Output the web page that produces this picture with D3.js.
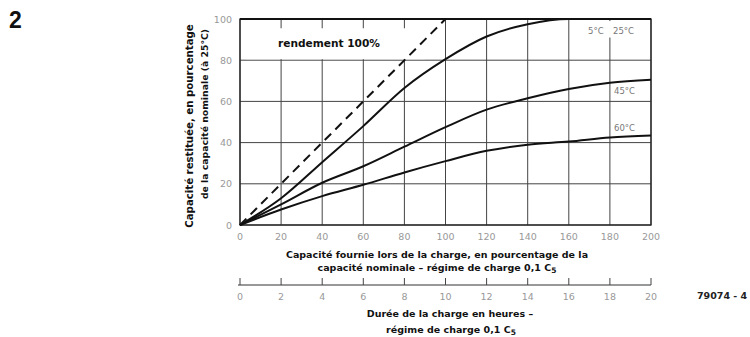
<!DOCTYPE html>
<html>
<head>
<meta charset="utf-8">
<script src="https://cdn.jsdelivr.net/npm/d3@7/dist/d3.min.js"></script>
<style>
  body { margin: 0; background: #fff; }
  svg { display: block; }
</style>
</head>
<body>
<svg id="chart" width="750" height="337"></svg>
<script>
// Capacité fournie (% de la capacité nominale)
const chargeTicks = [0, 20, 40, 60, 80, 100, 120, 140, 160, 180, 200];
// Capacité restituée (%)
const restTicks = [0, 20, 40, 60, 80, 100];
// Durée de charge (heures)
const hourTicks = [0, 2, 4, 6, 8, 10, 12, 14, 16, 18, 20];

// Courbes mesurées : capacité fournie -> capacité restituée
const chargeX  = [0, 20, 40, 60, 80, 100, 120, 140, 160, 180, 200];
const curve25  = [0, 13, 30.5, 48, 66.5, 80.5, 91.5, 97.5, 100, 100, 100];
const curve45  = [0, 10, 20.5, 28.5, 38, 47.5, 56, 61.5, 66, 69, 70.5];
const curve60  = [0, 7.5, 14, 19.5, 25.5, 31, 36, 39, 40.5, 42.5, 43.5];
// Rendement 100 % : restituée = fournie
const idealX   = [0, 100];
const idealY   = [0, 100];

const seriesLabels = ["5°C", "25°C", "45°C", "60°C"];

const svg = d3.select("#chart");
const x = d3.scaleLinear().domain([0, 200]).range([240, 651]);
const y = d3.scaleLinear().domain([0, 100]).range([225, 19]);
const xh = d3.scaleLinear().domain([0, 20]).range([240, 651]);

const tickFont = "'DejaVu Sans', sans-serif";
const labelFont = "'DejaVu Sans', sans-serif";

// Figure number
svg.append("text").attr("x", 9).attr("y", 28)
  .attr("font-family", "'Liberation Sans', Arial, sans-serif").attr("font-weight", "bold")
  .attr("font-size", 23).attr("fill", "#111").text("2");

// Grid
const grid = svg.append("g").attr("stroke", "#444").attr("stroke-width", 1);
grid.selectAll("line.v").data(chargeTicks).join("line")
  .attr("x1", d => x(d)).attr("x2", d => x(d))
  .attr("y1", y(0)).attr("y2", y(100));
grid.selectAll("line.h").data(restTicks).join("line")
  .attr("x1", x(0)).attr("x2", x(200))
  .attr("y1", d => y(d)).attr("y2", d => y(d));

// Frame
svg.append("rect").attr("x", x(0)).attr("y", y(100))
  .attr("width", x(200) - x(0)).attr("height", y(0) - y(100))
  .attr("fill", "none").attr("stroke", "#222").attr("stroke-width", 1.3);
svg.append("line").attr("x1", x(0)).attr("x2", x(200))
  .attr("y1", y(100)).attr("y2", y(100))
  .attr("stroke", "#111").attr("stroke-width", 2);

// Caption box for the ideal line
svg.append("rect").attr("x", x(3)).attr("y", y(95.5))
  .attr("width", x(90) - x(3)).attr("height", y(80.5) - y(95.5))
  .attr("fill", "#fff");
svg.append("text").attr("x", 278).attr("y", 47)
  .attr("font-family", labelFont).attr("font-weight", "bold")
  .attr("font-size", 10.6).attr("fill", "#111").text("rendement 100%");

// Label boxes on the right-hand column
svg.append("rect").attr("x", x(176)).attr("y", y(99)).attr("width", x(199) - x(176))
  .attr("height", y(91) - y(99)).attr("fill", "#fff");
svg.append("rect").attr("x", x(182)).attr("y", y(66)).attr("width", x(199) - x(182))
  .attr("height", y(61) - y(66)).attr("fill", "#fff");
svg.append("rect").attr("x", x(182)).attr("y", y(50)).attr("width", x(199) - x(182))
  .attr("height", y(45) - y(50)).attr("fill", "#fff");

const tLab = svg.append("g").attr("font-family", tickFont)
  .attr("font-size", 8.5).attr("fill", "#777");
tLab.append("text").attr("x", 588).attr("y", 34).text(seriesLabels[0]);
tLab.append("text").attr("x", 613).attr("y", 34).text(seriesLabels[1]);
tLab.append("text").attr("x", 614).attr("y", 94).text(seriesLabels[2]);
tLab.append("text").attr("x", 614).attr("y", 131).text(seriesLabels[3]);

// Curves
const line = d3.line().x(d => x(d[0])).y(d => y(d[1])).curve(d3.curveMonotoneX);
const curves = [curve25, curve45, curve60];
svg.append("g").selectAll("path").data(curves).join("path")
  .attr("d", c => line(chargeX.map((v, i) => [v, c[i]])))
  .attr("fill", "none").attr("stroke", "#111").attr("stroke-width", 2);

svg.append("path")
  .attr("d", d3.line().x(d => x(d[0])).y(d => y(d[1]))(idealX.map((v, i) => [v, idealY[i]])))
  .attr("fill", "none").attr("stroke", "#111").attr("stroke-width", 2)
  .attr("stroke-dasharray", "9,6");

// Y axis labels
svg.append("g").selectAll("text").data(restTicks).join("text")
  .attr("x", 232).attr("y", d => y(d) + 3.5)
  .attr("text-anchor", "end").attr("font-family", tickFont)
  .attr("font-size", 9.5).attr("fill", "#999").text(d => d);

// X axis labels
svg.append("g").selectAll("text").data(chargeTicks).join("text")
  .attr("x", d => x(d)).attr("y", 240)
  .attr("text-anchor", "middle").attr("font-family", tickFont)
  .attr("font-size", 9.5).attr("fill", "#999").text(d => d);

// Y title
const yTitle = svg.append("g").attr("font-family", labelFont)
  .attr("font-weight", "bold").attr("fill", "#111")
  .attr("text-anchor", "middle");
yTitle.append("text").attr("transform", "translate(193,126) rotate(-90)")
  .attr("font-size", 10.2)
  .text("Capacité restituée, en pourcentage");
yTitle.append("text").attr("transform", "translate(208,114) rotate(-90)")
  .attr("font-size", 9.3)
  .text("de la capacité nominale (à 25°C)");

// X title
const xTitle = svg.append("g").attr("font-family", labelFont)
  .attr("font-weight", "bold").attr("font-size", 9.5).attr("fill", "#111")
  .attr("text-anchor", "middle");
xTitle.append("text").attr("x", 437).attr("y", 258)
  .text("Capacité fournie lors de la charge, en pourcentage de la");
const t2 = xTitle.append("text").attr("x", 437).attr("y", 271);
t2.append("tspan").text("capacité nominale – régime de charge 0,1 C");
t2.append("tspan").attr("font-size", 7.5).attr("dy", 2).text("5");

// Hour axis
const hAxis = svg.append("g").attr("transform", "translate(0,285)");
hAxis.append("line").attr("x1", xh(0) - 2).attr("x2", xh(20))
  .attr("stroke", "#333").attr("stroke-width", 1.2);
hAxis.selectAll("line.t").data(hourTicks).join("line")
  .attr("x1", d => xh(d)).attr("x2", d => xh(d))
  .attr("y1", -7).attr("y2", 0)
  .attr("stroke", "#444").attr("stroke-width", 1);
hAxis.selectAll("text").data(hourTicks).join("text")
  .attr("x", d => xh(d)).attr("y", 15)
  .attr("text-anchor", "middle").attr("font-family", tickFont)
  .attr("font-size", 9.5).attr("fill", "#999").text(d => d);

const hTitle = svg.append("g").attr("font-family", labelFont)
  .attr("font-weight", "bold").attr("font-size", 9.5).attr("fill", "#111")
  .attr("text-anchor", "middle");
hTitle.append("text").attr("x", 450).attr("y", 317)
  .text("Durée de la charge en heures –");
const t3 = hTitle.append("text").attr("x", 451).attr("y", 333);
t3.append("tspan").text("régime de charge 0,1 C");
t3.append("tspan").attr("font-size", 7.5).attr("dy", 2).text("5");

// Reference code
svg.append("text").attr("x", 697).attr("y", 299)
  .attr("font-family", labelFont).attr("font-weight", "bold")
  .attr("font-size", 9.5).attr("fill", "#222").text("79074 - 4");
</script>
</body>
</html>
